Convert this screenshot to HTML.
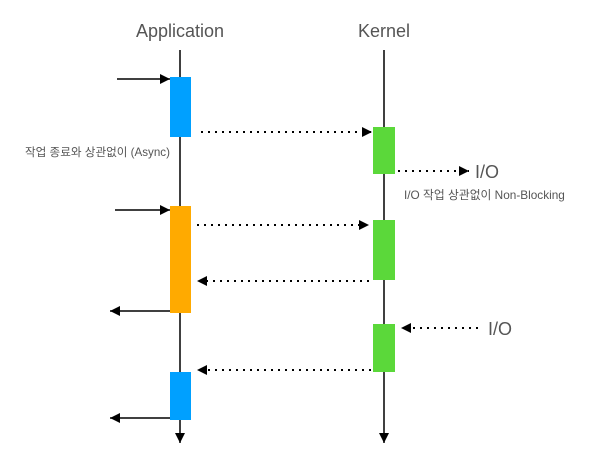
<!DOCTYPE html>
<html><head><meta charset="utf-8"><style>
body{margin:0;background:#fff;}
svg{display:block;font-family:"Liberation Sans","Noto Sans CJK KR",sans-serif;}
</style></head><body>
<svg width="600" height="473" viewBox="0 0 600 473" xmlns="http://www.w3.org/2000/svg">
<defs>
<marker id="a" viewBox="0 0 10 10" refX="10" refY="5" markerWidth="10" markerHeight="10" markerUnits="userSpaceOnUse" orient="auto"><path d="M0,0L10,5L0,10z" fill="#000"/></marker>
</defs>
<text x="180" y="37" font-size="18" fill="#555" text-anchor="middle">Application</text>
<text x="384" y="37" font-size="18" fill="#555" text-anchor="middle">Kernel</text>
<line x1="180" y1="50" x2="180" y2="443" stroke="#000" stroke-width="1.5" marker-end="url(#a)"/>
<line x1="384" y1="50" x2="384" y2="443" stroke="#000" stroke-width="1.5" marker-end="url(#a)"/>
<rect x="170" y="77" width="21" height="60" fill="#00a0ff"/>
<rect x="170" y="206" width="21" height="107" fill="#ffaa00"/>
<rect x="170" y="372" width="21" height="48" fill="#00a0ff"/>
<rect x="373" y="127" width="22" height="47" fill="#5bd83a"/>
<rect x="373" y="220" width="22" height="60" fill="#5bd83a"/>
<rect x="373" y="324" width="22" height="48" fill="#5bd83a"/>
<g stroke="#000" stroke-width="1.5" fill="none">
<line x1="117" y1="79" x2="170" y2="79" marker-end="url(#a)"/>
<line x1="115" y1="210" x2="170" y2="210" marker-end="url(#a)"/>
<line x1="170" y1="311" x2="110" y2="311" marker-end="url(#a)"/>
<line x1="170" y1="418" x2="110" y2="418" marker-end="url(#a)"/>
</g>
<g stroke="#000" stroke-width="2" stroke-dasharray="2 5" fill="none">
<line x1="201" y1="132" x2="372" y2="132" marker-end="url(#a)"/>
<line x1="398" y1="171" x2="469" y2="171" marker-end="url(#a)"/>
<line x1="197" y1="225" x2="369" y2="225" marker-end="url(#a)"/>
<line x1="369" y1="281" x2="197" y2="281" marker-end="url(#a)"/>
<line x1="478" y1="328" x2="401" y2="328" marker-end="url(#a)"/>
<line x1="371" y1="370" x2="197" y2="370" marker-end="url(#a)"/>
</g>
<text x="475" y="178" font-size="18" fill="#555">I/O</text>
<text x="488" y="335" font-size="18" fill="#555">I/O</text>
<text x="404" y="199" font-size="11.8" fill="#555">I/O 작업 상관없이 Non-Blocking</text>
<text x="25" y="156" font-size="11.6" fill="#555">작업 종료와 상관없이 (Async)</text>
</svg>
</body></html>
